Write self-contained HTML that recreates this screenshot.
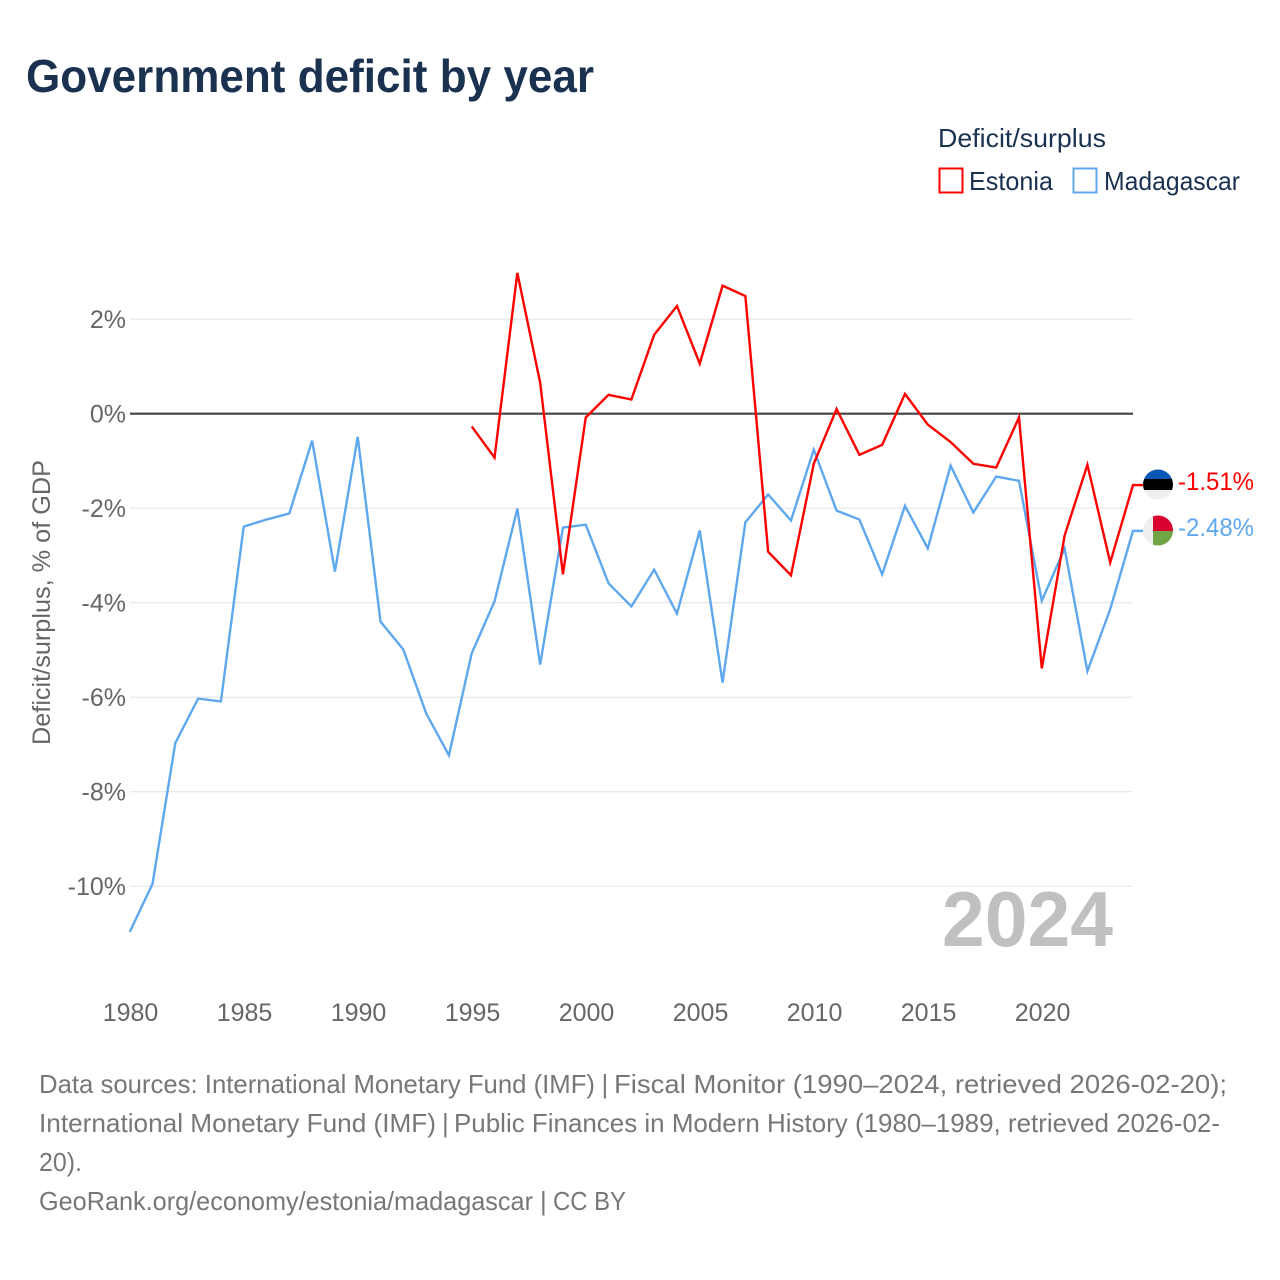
<!DOCTYPE html>
<html lang="en">
<head>
<meta charset="utf-8">
<title>Government deficit by year</title>
<style>
html,body{margin:0;padding:0;background:#fff;width:1280px;height:1280px;overflow:hidden}
svg{display:block;font-family:"Liberation Sans",sans-serif}
</style>
</head>
<body>
<svg id="chart" width="1280" height="1280" viewBox="0 0 1280 1280" xmlns="http://www.w3.org/2000/svg">
<defs>
<clipPath id="clip-ee"><circle cx="1158" cy="484.5" r="15"/></clipPath>
<clipPath id="clip-mg"><circle cx="1158" cy="530.5" r="15"/></clipPath>
</defs>
<text x="26" y="92" font-size="46" font-weight="700" fill="#1a3150" textLength="568" lengthAdjust="spacingAndGlyphs">Government deficit by year</text>
<g>
<text x="938" y="147" font-size="26" fill="#1a3150" textLength="168" lengthAdjust="spacingAndGlyphs">Deficit/surplus</text>
<rect x="939.5" y="168.5" width="23" height="24" fill="#fff" stroke="#ff0000" stroke-width="2"/>
<text x="969" y="190" font-size="26" fill="#1a3150" textLength="84" lengthAdjust="spacingAndGlyphs">Estonia</text>
<rect x="1073.5" y="168.5" width="23" height="24" fill="#fff" stroke="#5fa8ee" stroke-width="2"/>
<text x="1104" y="190" font-size="26" fill="#1a3150" textLength="136" lengthAdjust="spacingAndGlyphs">Madagascar</text>
</g>
<text transform="translate(50,745) rotate(-90)" font-size="25" fill="#666" textLength="285" lengthAdjust="spacingAndGlyphs">Deficit/surplus, % of GDP</text>
<g id="grid"></g>
<g id="y-ticks"></g>
<g id="x-ticks"></g>
<text x="942" y="946" font-size="78" font-weight="700" fill="#c0c0c0" textLength="171" lengthAdjust="spacingAndGlyphs">2024</text>
<g id="series"></g>
<g clip-path="url(#clip-ee)">
<rect x="1143" y="469" width="30" height="31" fill="#eeeeee"/>
<rect x="1143" y="469" width="30" height="10" fill="#0a56b4"/>
<rect x="1143" y="479" width="30" height="11" fill="#000000"/>
</g>
<g clip-path="url(#clip-mg)">
<rect x="1143" y="515" width="30" height="31" fill="#eeeeee"/>
<rect x="1153" y="515" width="20" height="16" fill="#d8002f"/>
<rect x="1153" y="531" width="20" height="15" fill="#6fa544"/>
</g>
<text x="1178" y="490" font-size="25" fill="#ff0000" textLength="76" lengthAdjust="spacingAndGlyphs">-1.51%</text>
<text x="1178" y="536" font-size="25" fill="#5fa8ee" textLength="76" lengthAdjust="spacingAndGlyphs">-2.48%</text>
<g font-size="26" fill="#777777">
<text x="39" y="1093" textLength="556" lengthAdjust="spacingAndGlyphs">Data sources: International Monetary Fund (IMF)</text>
<text x="601.5" y="1093">|</text>
<text x="614" y="1093" textLength="613" lengthAdjust="spacingAndGlyphs">Fiscal Monitor (1990–2024, retrieved 2026-02-20);</text>
<text x="39" y="1132" textLength="397" lengthAdjust="spacingAndGlyphs">International Monetary Fund (IMF)</text>
<text x="442" y="1132">|</text>
<text x="454" y="1132" textLength="766" lengthAdjust="spacingAndGlyphs">Public Finances in Modern History (1980–1989, retrieved 2026-02-</text>
<text x="39" y="1171" textLength="43" lengthAdjust="spacingAndGlyphs">20).</text>
<text x="39" y="1210" textLength="494" lengthAdjust="spacingAndGlyphs">GeoRank.org/economy/estonia/madagascar</text>
<text x="540" y="1210">|</text>
<text x="553" y="1210" textLength="73" lengthAdjust="spacingAndGlyphs">CC BY</text>
</g>
</svg>
<script>
const years = [1980,1981,1982,1983,1984,1985,1986,1987,1988,1989,1990,1991,1992,1993,1994,1995,1996,1997,1998,1999,2000,2001,2002,2003,2004,2005,2006,2007,2008,2009,2010,2011,2012,2013,2014,2015,2016,2017,2018,2019,2020,2021,2022,2023,2024];
const madagascar = [-10.97,-9.95,-6.97,-6.03,-6.09,-2.39,-2.24,-2.11,-0.57,-3.34,-0.49,-4.40,-4.99,-6.34,-7.23,-5.07,-3.97,-2.01,-5.31,-2.41,-2.35,-3.59,-4.08,-3.30,-4.23,-2.47,-5.69,-2.30,-1.71,-2.26,-0.76,-2.05,-2.24,-3.40,-1.95,-2.85,-1.10,-2.09,-1.33,-1.42,-3.96,-2.85,-5.45,-4.14,-2.48];
const estonia = [null,null,null,null,null,null,null,null,null,null,null,null,null,null,null,-0.27,-0.93,2.98,0.66,-3.40,-0.08,0.40,0.30,1.67,2.28,1.06,2.71,2.49,-2.92,-3.42,-1.06,0.10,-0.87,-0.66,0.42,-0.23,-0.60,-1.06,-1.14,-0.08,-5.39,-2.58,-1.08,-3.15,-1.51];
const yTickValues = [2,0,-2,-4,-6,-8,-10];
const xTickYears = [1980,1985,1990,1995,2000,2005,2010,2015,2020];

const NS = 'http://www.w3.org/2000/svg';
function xScale(year){ return 129.7 + (year - 1980) * (1133 - 129.7) / 44; }
function yScale(v){ return 413.7 - v * 47.25; }
function make(tag, attrs){
  const el = document.createElementNS(NS, tag);
  for (const k in attrs) el.setAttribute(k, attrs[k]);
  return el;
}
const grid = document.getElementById('grid');
const yTicks = document.getElementById('y-ticks');
const xTicks = document.getElementById('x-ticks');
const seriesGroup = document.getElementById('series');

yTickValues.forEach(function(v){
  const line = make('line', {x1:130, x2:1133, y1:yScale(v), y2:yScale(v), stroke: v === 0 ? '#444444' : '#e6e6e6', 'stroke-width': v === 0 ? 2.2 : 1.2});
  
  
  grid.appendChild(line);
  const label = make('text', {x:126, y:yScale(v) + 9, 'font-size':25, fill:'#666666', 'text-anchor':'end'});
  label.textContent = v + '%';
  
  
  yTicks.appendChild(label);
});
xTickYears.forEach(function(y){
  const label = make('text', {x:xScale(y) + 0.8, y:1021, 'font-size':25, fill:'#666666', 'text-anchor':'middle'});
  label.textContent = y;
  
  
  xTicks.appendChild(label);
});
function drawSeries(values, color, name){
  const pts = [];
  values.forEach(function(v, i){
    if (v !== null) pts.push(xScale(years[i]).toFixed(2) + ',' + yScale(v).toFixed(2));
  });
  const lastValue = values[values.length - 1];
  pts.push('1143,' + yScale(lastValue).toFixed(2));
  const line = make('polyline', {points:pts.join(' '), fill:'none', stroke:color, 'stroke-width':2.4, 'stroke-linejoin':'miter'});
  
  
  seriesGroup.appendChild(line);
}
drawSeries(madagascar, '#5fa8ee', 'line-madagascar');
drawSeries(estonia, '#ff0000', 'line-estonia');
</script>
</body>
</html>
